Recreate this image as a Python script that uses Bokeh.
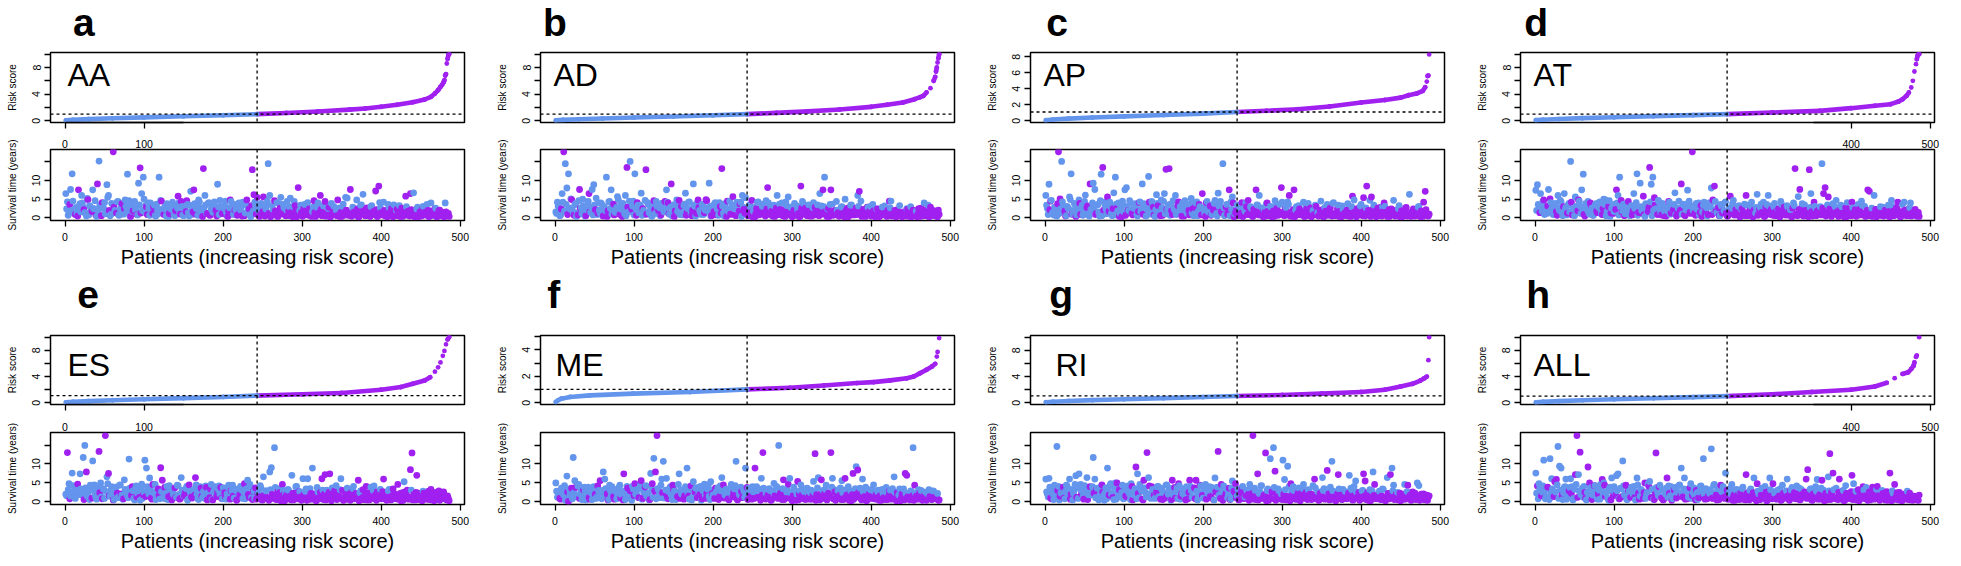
from bokeh.plotting import figure
from bokeh.models import Span, Label, LinearAxis, FixedTicker, Range1d, ColumnDataSource
from bokeh.layouts import row, column
from bokeh.core.properties import value
from bokeh.embed import file_html
from bokeh.resources import INLINE

CUTOFF_RANK = 243
BLUE = "#6495ED"
PURPLE = "#A020F0"
FONT = "Liberation Sans"

panel_letters = ["a", "b", "c", "d", "e", "f", "g", "h"]
panel_names = ["AA", "AD", "AP", "AT", "ES", "ME", "RI", "ALL"]

# ---------------- risk score curves (patient rank, risk score) ----------------
rx_AA = [1, 10, 30, 60, 100, 150, 200, 243, 280, 320, 360, 380, 400, 420, 440, 455, 463, 468, 472, 475, 477, 479, 480, 481, 482, 483, 484, 485, 486]
ry_AA = [0.08, 0.15, 0.25, 0.38, 0.52, 0.68, 0.84, 1.0, 1.18, 1.4, 1.68, 1.85, 2.1, 2.4, 2.8, 3.2, 3.6, 4.1, 4.6, 5.1, 5.4, 5.8, 6.1, 6.8, 7.0, 8.6, 9.3, 9.9, 10.0]
rx_AD = [1, 10, 30, 60, 100, 150, 200, 243, 280, 320, 360, 400, 420, 440, 455, 462, 466, 470, 475, 479, 481, 482, 483, 484, 485, 486]
ry_AD = [0.07, 0.14, 0.24, 0.36, 0.5, 0.66, 0.83, 1.0, 1.2, 1.42, 1.7, 2.1, 2.4, 2.75, 3.25, 3.55, 3.75, 4.25, 4.9, 6.0, 6.6, 7.4, 8.0, 8.75, 9.4, 10.0]
rx_AP = [1, 10, 30, 60, 100, 150, 200, 243, 280, 320, 360, 400, 430, 450, 460, 470, 478, 481, 483, 484, 485, 486]
ry_AP = [0.08, 0.16, 0.28, 0.42, 0.56, 0.72, 0.9, 1.1, 1.25, 1.45, 1.8, 2.3, 2.6, 2.9, 3.2, 3.4, 3.75, 4.2, 4.9, 5.6, 5.65, 8.3]
rx_AT = [1, 10, 30, 60, 100, 150, 200, 243, 300, 360, 400, 430, 450, 460, 465, 470, 473, 476, 478, 480, 482, 483, 484, 485, 486]
ry_AT = [0.1, 0.17, 0.27, 0.4, 0.54, 0.7, 0.86, 1.0, 1.25, 1.5, 1.9, 2.25, 2.5, 2.9, 3.25, 3.75, 4.25, 5.0, 6.0, 7.4, 8.5, 9.25, 9.75, 10.0, 10.0]
rx_ES = [1, 10, 30, 60, 100, 150, 200, 243, 300, 350, 400, 425, 440, 455, 462, 468, 472, 475, 478, 480, 482, 484, 486]
ry_ES = [0.08, 0.15, 0.27, 0.4, 0.55, 0.72, 0.9, 1.1, 1.3, 1.5, 2.0, 2.4, 2.9, 3.4, 3.9, 4.75, 5.4, 6.15, 7.15, 7.9, 8.9, 9.65, 10.0]
rx_ME = [1, 4, 8, 19, 44, 99, 171, 243, 297, 340, 382, 403, 424, 445, 454, 462, 470, 477, 481, 483, 484, 486]
ry_ME = [0.07, 0.2, 0.32, 0.45, 0.57, 0.7, 0.82, 1.02, 1.14, 1.32, 1.5, 1.57, 1.7, 1.86, 2.0, 2.25, 2.5, 2.75, 2.95, 3.5, 3.85, 4.9]
rx_RI = [1, 10, 30, 60, 100, 150, 200, 243, 300, 350, 400, 430, 450, 465, 475, 480, 483, 485, 486]
ry_RI = [0.1, 0.17, 0.28, 0.42, 0.56, 0.72, 0.88, 1.05, 1.2, 1.4, 1.65, 2.0, 2.5, 2.9, 3.4, 3.75, 4.0, 6.5, 10.0]
rx_ALL = [1, 10, 30, 60, 100, 150, 200, 243, 300, 350, 400, 430, 445, 455, 465, 472, 476, 479, 480, 482, 483, 486]
ry_ALL = [0.08, 0.15, 0.26, 0.4, 0.55, 0.71, 0.87, 1.03, 1.3, 1.65, 2.0, 2.5, 3.05, 3.75, 4.4, 4.65, 5.15, 5.65, 6.15, 7.0, 7.2, 10.0]

# ---- survival times (years) by patient rank; odd ranks 1,3,5,... and even ranks 2,4,6,...; "*" = dead ----
surv_odd_AA = """
6.5 4.3 1.6 7.6 11.8 2.2 0.9* 1.2 7.5* 3.8
6.0 2.8 1.4 0.5 4.9* 3.3 1.9 7.5 2.4 0.7*
9.1* 15.2 3.6 4.1* 2.5 1.1 8.9 6.0 0.6 3.9
17.7* 2.0 1.3* 4.4 0.8 2.9 1.7 2.5* 3.1 11.7
4.6 0.4* 1.8 3.5 2.2 0.9* 9.3 13.4* 6.5 10.9
1.5 3.0* 4.0 0.7 2.6 1.2* 3.4 0.5 2.0 10.9
4.7 1.6 0.9* 2.3 3.8 0.4 1.1* 2.8 1.9 0.6
3.2 5.8* 1.4 4.4* 0.8 2.6 1.7* 3.6 0.5 7.1
2.2 7.5* 1.0* 3.4 4.8 2.7 0.6 13.2* 6.0 1.3
3.9 0.7* 2.4 1.5 4.3 2.0* 9.0 0.9 3.1 1.2*
2.6 4.5 0.5 1.8* 4.8* 3.2 1.0 2.1* 0.8 3.7
1.4* 2.9 4.2 0.6* 3.5 1.7 2.4* 0.3 12.9* 6.2*
3.1 5.5* 1.9 0.8* 2.6 5.6* 0.5* 3.4 14.5 6.0
0.9* 2.2 4.6* 1.5* 0.4* 3.8 5.5 1.2* 2.7 0.6*
4.4 1.8* 5.3 0.7* 2.9 3.3* 0.3* 8.1* 2.0 1.4*
0.5* 3.6 1.1* 4.1 2.4* 0.8* 1.7 4.6* 0.4* 2.8
1.3* 6.0* 0.6* 3.2 4.4* 1.0* 2.5 0.3* 3.9 1.6*
0.9* 2.1 4.8* 0.4* 1.5* 3.1 0.7* 5.5 5.3 1.2*
7.6* 0.5* 2.6 1.1* 4.8 0.3* 1.8* 3.5 6.3 0.8*
2.3* 0.6* 1.4* 3.0 0.9* 1.7* 7.2* 0.4* 8.5* 2.7
1.0* 4.2 0.5* 1.9* 3.6 0.8* 2.5* 0.3* 1.3* 2.1
0.6* 3.3 1.5* 0.4* 2.2* 5.8* 1.1* 0.7* 6.5* 1.8*
6.7 0.9* 2.4 0.3* 1.6* 0.5* 3.1 1.2* 0.8* 2.0*
0.4* 4.0 1.4* 0.7* 2.6 0.3* 1.9* 1.0* 0.5* 1.5*
4.0 0.6* 1.2*
"""
surv_even_AA = """
2.4 0.7 3.6* 1.9 4.5 1.1 2.8 0.5* 3.3 1.6
4.0 2.2* 1.3 5.2 0.8 3.0 1.7* 2.5 4.6 0.4
1.8 3.4 0.6* 2.7 4.1 1.2 5.5 2.0* 0.9 3.7
2.9* 1.4 4.3 0.7 2.2 3.8* 1.0 4.8 1.6 2.6
0.5 3.1 1.9* 4.4 2.4 0.8 3.5 1.3* 2.0 5.0
3.3 0.9* 2.6 4.0 1.5 2.9* 0.6 3.7 1.1 2.3
4.5* 1.7 2.9 0.5 3.6 1.2* 2.4 4.2 0.8 1.9*
2.7 4.0 1.0* 3.1 0.6 2.2 4.6* 1.4 3.4 0.9
1.6* 3.8 2.5 0.7 4.3 1.9 0.4* 2.8 3.5 1.2*
4.1 0.8* 2.3 3.6 1.4 0.5* 3.0 4.7 2.0 1.1*
3.2 1.6 0.4* 2.7 4.4 1.0* 3.6 2.2 0.7* 4.0
2.1 0.5* 3.7 1.3 4.8* 2.5 0.9 3.3* 1.8 4.2
1.0* 2.8 0.4* 3.9 1.6* 0.7* 2.4 4.5 1.2* 0.3*
3.3 0.8* 1.9* 4.1 0.5* 2.6* 1.3* 3.6 0.9* 2.1
0.6* 3.0 1.5* 0.3* 4.4 2.2* 0.9* 1.7* 3.4 0.5*
2.5* 1.1* 3.8 0.7* 1.9* 0.4* 2.9 1.4* 0.8* 4.0
0.9* 2.3* 1.2* 3.5 0.5* 1.7* 2.8* 0.3* 1.1* 3.1
1.8* 0.6* 2.6 1.0* 0.4* 3.7 1.5* 2.1* 0.7* 1.3*
0.5* 2.9 1.6* 0.8* 2.4* 0.3* 3.4 1.2* 1.9* 0.6*
2.7* 1.1* 0.4* 3.3 1.7* 0.9* 2.2* 0.5* 4.1 1.4*
0.8* 2.0* 1.3* 0.3* 2.8 1.6* 0.6* 3.5 1.0* 2.3*
1.5* 0.4* 2.6* 1.1* 0.7* 3.0 1.8* 0.5* 2.2* 0.9*
0.3* 1.7* 2.9 0.6* 1.2* 2.4* 0.8* 1.5* 3.6 0.4*
1.9* 0.7* 1.3* 2.5* 0.4* 1.0* 2.1* 0.6* 1.4* 0.3*
1.6* 0.8* 0.4*
"""
surv_odd_AD = """
1.6 4.2 2.0 0.7 6.5 17.7* 14.5 8.0 11.8 2.4
4.9* 1.2 3.5 0.4 0.8* 7.6* 2.7 5.0 1.8 0.6*
3.1 6.5* 1.5 7.6 8.9 2.2* 0.9 4.0 1.3 3.7
0.5* 2.6 10.9 1.9* 4.4 7.5 3.2 0.8* 2.0 5.7
1.1 3.8 0.4* 2.9 6.0 13.5* 1.6 15.1 2.3* 4.5
11.8 0.7* 3.4 1.8 6.6 2.5* 0.9 12.9* 4.1 1.4
2.8 0.5 4.6* 1.2 3.0 1.9* 0.6 3.9 2.2 4.4*
7.5 4.0* 1.0 9.1* 2.6 0.4* 3.5 1.7 4.7* 2.1
0.8 3.3 6.6 1.5* 4.2 2.4 0.6* 9.1 3.1 1.2*
4.8* 2.0 0.9 3.6 1.4* 4.9* 2.7 9.3 0.5 3.2
1.7* 4.1 2.5 0.7 3.0* 13.2* 1.3 3.8 0.4* 2.2
4.5 1.0* 5.7* 2.9 0.6* 3.6 1.8* 4.2 6.0 2.3*
5.4 1.2* 0.6* 3.0 4.7* 1.8 0.3* 2.5* 4.3 1.0*
2.1* 3.7 0.8* 4.6 8.1* 1.4* 2.8 0.5* 3.4 1.9*
6.0 0.9* 2.3* 4.0 1.2* 0.4* 3.3 5.6 1.6* 2.7
0.7* 3.9 1.5* 2.2 0.3* 8.5* 4.4 1.0* 2.6* 0.6*
3.5 1.9* 0.5* 4.1 2.8* 1.3* 0.8* 6.5 3.2 7.5*
10.9 1.1* 2.4 0.4* 7.5* 3.7 1.6* 0.9* 2.1 0.5*
1.4* 3.0 0.7* 5.0 2.2* 0.3* 1.8* 3.5 0.9* 1.2*
2.6* 6.0 7.1* 4.5 0.6* 1.5* 0.4* 2.9* 1.0* 3.1
0.8* 1.9* 0.3* 2.4 1.2* 0.5* 1.7* 0.9* 3.2 1.4*
2.0* 4.5* 4.5 0.6* 1.3* 0.4* 2.2* 0.8* 1.1* 0.3*
1.6* 0.5* 2.5 0.9* 1.4* 0.3* 2.1* 0.7* 1.8 1.0*
0.4* 2.6* 1.2* 4.0 0.6* 2.0* 0.3* 2.9* 1.5* 0.8*
1.8* 0.5* 2.1*
"""
surv_even_AD = """
1.2 3.1 0.6 2.4* 4.2 1.8 3.6 0.9* 2.7 5.1
2.0 0.7* 3.8 1.4 4.6 2.6* 1.1 3.3 0.5 2.2
4.4 1.6* 2.9 0.8 3.5 5.3 1.3* 2.1 4.0 0.6
3.0 1.9 0.4* 4.3 2.5 1.0 3.7* 1.5 2.8 4.9
0.9* 2.3 3.9 1.2 0.6 2.9* 4.5 1.7 3.2 0.8
2.6 4.1* 1.4 3.4 0.7 2.0 4.7 1.0* 3.6 1.8
0.5 3.0 2.2* 4.4 1.3 2.7 0.8* 3.9 1.6 2.4
4.2 1.1* 2.9 0.6 3.5 1.9* 4.8 2.3 0.9 3.1*
1.5 3.7 0.7* 2.5 4.3 1.2 2.0* 3.4 0.5 4.0
2.8* 1.4 3.6 0.9 2.1 4.6* 1.7 3.0 0.6* 2.4
3.9 0.8* 2.2 4.1 1.3* 3.2 0.5 2.7 4.5* 1.6
1.0* 3.4 2.5 0.7* 4.2 1.9 3.7* 0.4 2.9 1.3*
2.2* 0.6* 3.5 1.4* 0.3* 2.8 1.1* 4.2 0.8* 1.7*
3.1 1.3* 0.5* 2.4* 4.0 0.9* 1.8* 3.3 0.4* 2.6*
1.0* 3.7 1.6* 0.6* 2.2* 4.3 0.8* 1.4* 2.9 0.3*
2.0* 0.7* 3.2 1.2* 0.4* 2.6* 3.9 1.5* 0.9* 2.3*
0.5* 1.9* 2.8 0.8* 1.3* 3.5 0.6* 2.1* 1.0* 3.0
1.7* 0.4* 2.5* 3.6 1.1* 0.7* 2.0* 4.4 1.4* 0.5*
2.9 1.0* 0.3* 1.8* 2.6* 0.6* 3.4 1.2* 0.8* 2.1*
0.9* 3.1 1.5* 0.4* 2.3* 1.1* 0.7* 2.8 1.9* 0.5*
3.6 0.6* 1.2* 2.4* 0.3* 1.6* 2.9 0.8* 1.3* 0.4*
1.4* 2.7 0.5* 1.0* 2.0* 0.3* 1.7* 3.3 0.6* 1.2*
0.7* 1.5* 2.3* 0.4* 3.0 1.1* 0.6* 1.9* 0.3* 2.5*
1.2* 0.5* 2.2* 0.9* 1.6* 3.4 0.4* 1.0* 2.0* 0.6*
1.4* 0.3* 0.9*
"""
surv_odd_AP = """
6.0 2.5 9.0 4.5* 1.2 0.8 2.1 0.5 17.7* 5.1*
15.1 3.2 1.8* 0.6 2.7 5.6 11.8 1.0 3.9 0.4*
2.2 4.8 0.9* 3.4 1.5 6.1 2.8* 0.7 9.1* 2.0
9.3 7.6 1.2* 3.6 0.5 11.7 13.5* 4.2 2.4 5.6*
1.8* 3.0 0.6 6.7 10.9 2.6* 4.0 1.1 0.3* 3.5
7.5 8.1 2.0* 4.6 1.4 0.8* 3.1 2.5 0.5 4.1*
1.7 9.1 3.8 0.6* 2.3 11.1 1.0 4.4 2.9* 0.4
6.2 3.3* 1.5 4.8 0.7* 6.5 13.0* 2.2 13.2* 3.7
0.9* 2.6 6.0 1.3 4.3* 3.0 0.5* 2.0 4.6 1.6
3.4 0.8* 5.2 2.4* 1.1 4.0 0.6 3.6* 1.9 6.5*
2.7 0.4* 4.4 1.5 3.2* 0.9 2.1* 4.7 1.2 6.6
3.8 1.7* 14.5 0.6 2.9* 1.0* 7.5* 4.2 5.6 0.3*
1.4* 3.5 0.7* 2.3 4.1* 0.5* 1.8 3.0* 4.7* 0.9*
2.6 0.4* 1.2* 7.5* 3.4 6.0 0.8* 1.6* 2.2 0.5*
4.0* 1.0* 3.1 0.3* 1.9* 4.6 2.5* 0.7* 3.6 8.1*
1.3* 0.6* 2.8 4.3 6.0* 1.5* 0.4* 7.5* 2.1 1.0*
3.3 0.8* 1.7* 4.2 0.5* 2.4* 3.9 1.1* 0.3* 2.0
0.9* 3.1* 1.4 0.6* 4.5 2.2* 0.4* 1.8* 3.6 1.2*
2.7* 0.5* 4.1 1.0* 0.7* 3.4 1.6* 0.3* 2.3 1.3*
0.6* 3.8 1.9* 0.4* 5.8* 4.8 1.1* 2.5* 0.8* 3.2
1.4* 5.4* 0.5* 8.5* 2.0* 4.7 5.6* 0.9* 1.7* 0.3*
2.6* 1.1* 0.6* 3.0 4.0* 1.5* 0.4* 2.2* 0.8* 1.8*
4.7 0.5* 1.3* 2.5 0.3* 1.9* 0.7* 1.2* 2.8* 0.9*
6.3 0.4* 1.6* 2.3* 0.6* 1.0* 3.1 0.3* 1.5* 4.2*
7.1* 1.2* 0.5*
"""
surv_even_AP = """
3.4 0.9 2.2* 4.7 1.5 2.9 0.6 3.8* 1.2 2.5
4.3 1.7 0.5* 3.1 2.4 4.9 1.0* 2.0 3.6 0.8
1.4 3.9* 2.6 0.7 4.4 1.8 3.2* 0.5 2.3 4.0
2.8 0.9* 3.5 1.6 4.6 0.6 2.1* 3.3 1.1 2.7
4.2 1.3 2.5* 0.8 3.7 1.9 0.4* 2.9 4.5 1.5
0.7* 3.0 2.0 4.1 1.2* 2.6 3.8 0.9 1.7* 4.3
2.4 1.0* 3.6 0.5 2.8 4.2* 1.4 3.1 0.8* 2.2
3.9 1.6 0.6* 2.7 4.4 1.1 2.3* 3.5 0.7 1.9*
4.6 2.1 0.9 3.3* 1.5 2.6 4.0 0.5* 3.2 1.2
2.0* 3.7 1.3 0.6 2.9* 4.3 1.8 3.0 0.8* 2.5
1.1 4.1* 2.4 3.4 0.7* 1.6 3.9 2.2* 0.5 3.1
4.4 1.4* 2.7 0.9 3.6 1.9* 0.6 2.3 4.0* 1.2
2.0* 0.7* 3.2 1.3* 0.4* 2.6 4.1 0.9* 1.6* 3.0
0.5* 2.3* 1.1* 3.5 0.8* 1.9* 2.7 0.3* 1.4* 3.8
1.8* 0.6* 2.9 1.2* 0.4* 3.3 2.1* 0.9* 1.5* 4.2
0.7* 2.5* 1.0* 3.6 0.5* 1.7* 2.2* 0.3* 3.0 1.3*
2.4* 0.9* 1.6* 0.4* 3.1 1.2* 0.6* 2.7* 1.9* 0.8*
3.4 1.5* 0.5* 2.0* 1.1* 0.3* 2.8 1.7* 0.7* 2.3*
1.0* 3.9 0.6* 1.4* 2.5* 0.4* 1.8* 3.2 0.9* 1.3*
2.1* 0.5* 1.2* 3.0 0.8* 1.6* 0.3* 2.4* 1.1* 3.6
0.6* 1.9* 2.7 0.9* 1.4* 0.4* 2.2* 3.4 0.7* 1.5*
1.2* 2.8* 0.5* 1.7* 3.1 0.8* 1.3* 0.4* 2.4* 1.0*
2.0* 0.6* 1.5* 3.3 0.9* 0.3* 1.8* 2.6* 0.5* 1.1*
0.8* 1.6* 2.4* 0.5* 1.2* 2.9 0.7* 1.9* 0.4* 1.3*
2.2* 0.6* 1.0*
"""
surv_odd_AT = """
7.4 8.9 2.2 6.5 1.8 4.8* 2.9 1.2 7.6 5.1*
2.5 0.9 3.6 1.7* 6.0 2.0 4.3 0.6 6.5 2.8
1.3* 3.9 15.1 0.8* 2.4 5.6 1.6 4.8* 3.1 7.5
11.7 0.5* 2.7 4.4 1.0 3.3* 0.7 2.1 3.8 1.4*
4.1 2.3 0.9* 5.0 4.8 1.6 3.0* 0.4 2.6 1.2*
3.7 7.5* 6.0 10.9 4.7* 1.8 0.6* 2.9 4.0 1.1
2.4 0.8* 6.5 3.5 11.8 1.5* 9.3 2.0 5.8* 0.4
3.2 1.7* 13.5* 9.0 10.9 5.4* 2.5 0.9* 4.2 1.3
3.9 0.6* 2.8 1.9 4.4* 1.0 3.3 2.2* 6.7 0.5*
2.6 1.4* 9.1* 3.7 0.8* 2.1 7.4 4.5 1.2* 17.7*
3.0 0.7* 2.3 4.0 1.5* 0.4* 3.4 1.1* 2.7 0.9*
4.1 8.0 4.8* 8.5* 1.8* 2.9 0.6* 3.6 1.3* 2.0
4.3 0.5* 1.2* 5.8* 2.6 4.7 0.8* 1.9* 3.1 0.3*
2.4 1.0* 3.7 6.0* 0.6* 1.7* 3.2 0.4* 2.1* 1.3
6.3 0.9* 2.8 1.5* 4.2 0.5* 3.6 6.0 1.1* 2.3*
0.7* 3.9 1.8* 2.5 0.4* 4.4 1.2* 2.9* 0.8* 3.3
1.6* 2.2 0.3* 4.0 13.2* 1.0* 5.7 7.6* 2.7* 0.6*
3.5 1.4* 2.1* 12.9* 6.5 0.5* 4.2* 2.6 1.8* 0.9*
3.0 14.5 6.5* 8.1* 1.2* 5.6* 2.4* 0.4* 3.8 1.5*
4.7 0.8* 2.0* 3.4 1.1* 0.3* 2.7* 4.1 1.6* 0.6*
4.2* 1.3* 2.2* 0.5* 3.6 1.9* 4.5 0.9* 3.1 1.4*
7.5* 7.1* 1.0* 0.4* 6.0 2.3* 1.6* 0.7* 3.0 1.2*
0.5* 2.1* 1.4* 3.4 0.3* 4.7 1.8* 0.8* 2.6* 4.2*
1.1* 0.4* 3.6 4.2 1.7* 0.6* 2.4* 4.0 1.3* 0.8*
2.3* 0.5* 1.5*
"""
surv_even_AT = """
2.0 3.6 1.4* 2.8 4.4 0.9 2.5 3.2* 1.7 4.1
1.1 2.3 3.9 0.7* 2.6 4.7 1.5 3.0* 2.1 0.8
3.5 1.6 4.2* 2.4 0.6 3.1 1.9* 4.5 1.2 2.7
0.9* 3.8 2.2 1.4 4.0* 2.6 0.7 3.4 1.8* 2.9
4.3 1.0 2.5* 3.6 0.5 2.0 4.6 1.3* 3.1 1.7
2.3* 4.0 0.8 2.9 1.6* 3.7 1.1 2.4 4.4* 0.6
3.3 1.9* 2.6 4.1 0.7 1.4* 3.0 2.2 0.9* 3.8
1.5 2.8* 4.3 0.6 2.0 3.5* 1.2 4.7 2.5 0.8*
3.1 1.7 0.5* 2.9 4.2 1.3* 2.3 3.6 0.9 1.9*
4.5 2.1* 1.0 3.4 0.6* 2.7 4.0 1.5* 3.2 2.0
1.2* 3.9 2.4 0.8 3.3* 1.6 4.2 2.1* 0.5 2.9
3.6 0.9* 2.2 4.4 1.4 2.7* 0.6 3.1 1.9* 4.0
1.3* 0.5* 2.7 1.8* 3.9 0.8* 2.2* 1.1* 3.3 0.4*
2.5* 1.5* 0.6* 3.4 1.0* 2.1* 4.2 0.3* 1.7* 2.8
0.7* 2.3* 3.7 1.2* 0.4* 2.9* 1.6* 3.2 0.9* 1.9*
3.0 0.6* 1.4* 2.4* 0.3* 3.6 1.1* 2.0* 0.8* 2.7
1.8* 0.4* 2.6* 3.3 1.0* 0.6* 2.2* 1.4* 3.8 0.5*
2.0* 1.2* 0.3* 2.8 1.7* 0.9* 3.1 0.6* 1.5* 2.4*
0.8* 2.6* 1.3* 0.5* 3.5 1.9* 0.7* 2.2* 1.0* 2.9
1.6* 0.4* 2.1* 3.0 0.9* 1.4* 0.3* 2.5* 1.8* 0.6*
2.7 1.1* 0.5* 1.7* 2.3* 0.8* 3.4 1.2* 0.4* 2.0*
0.6* 1.8* 2.6 0.9* 1.3* 0.3* 2.2* 1.6* 0.7* 2.9
1.5* 0.8* 2.3* 0.4* 1.9* 3.1 0.6* 1.2* 2.5* 0.9*
0.3* 1.7* 1.0* 2.1* 0.6* 1.4* 2.7 0.5* 1.1* 1.8*
0.7* 1.3* 0.4*
"""
surv_odd_ES = """
2.0 13.0* 4.8 1.5 7.6 2.6 0.9 4.2 3.1 7.4
1.8 11.7 14.9 7.9* 2.4 0.6 3.6 10.8 4.5 1.2
2.9 13.3* 5.0 0.8* 3.3 17.5* 6.6 7.5* 1.5 4.0
0.5* 2.6 3.9 1.1 4.4 2.1* 0.7 5.8 3.0 1.6
11.3 2.3 4.0* 0.9 3.5 1.3* 2.7 0.4 4.7 1.9*
11.0 8.9 3.6 6.3 1.0* 4.6* 2.2 0.6 3.2 1.7*
9.0* 5.7* 2.5 0.8 4.1 1.4* 3.0 0.5* 2.0 3.7*
1.2 4.3 0.7* 6.4 2.8 1.6* 3.5 0.4 4.5* 2.3
1.0* 3.3 6.4* 2.1 0.6 4.0 1.5* 2.7 0.9 3.8*
2.4 1.1* 4.6 0.5* 3.1 1.8 2.6* 4.2 3.8* 0.8
3.6 1.3* 2.1 4.4 0.7* 2.9 1.6* 3.4 0.4* 2.5
1.9* 3.2 0.9 4.8* 2.2 5.7 1.2* 3.9 0.6* 2.8
3.7* 1.0* 2.4 4.3 0.5* 6.6 1.7* 2.9 0.8* 7.9
9.0 1.4* 14.3 0.6* 2.6* 3.5 0.3* 4.6* 1.9* 2.2
0.9* 3.0 1.5* 7.0 0.5* 2.4* 4.1 1.1* 2.7 0.4*
6.1 1.8* 3.4 6.1 0.7* 2.2* 8.9 1.3* 0.4* 3.8
1.0* 2.5* 6.1* 0.6* 7.2* 3.1 1.6* 7.4* 0.3* 2.0*
2.9* 4.3 0.8* 1.4* 6.1 3.0* 0.5* 2.2* 3.6 1.1*
0.4* 2.7* 4.1 1.7* 0.9* 5.7* 2.4 0.6* 3.2* 1.3*
4.1* 2.0* 0.5* 3.9 1.2* 4.2 0.7* 2.6* 1.5* 3.3
0.9* 6.0* 1.8* 0.4* 2.9 1.3* 0.6* 3.4* 2.1* 0.8*
4.6* 1.5* 0.3* 2.4* 5.3 1.0* 3.1* 0.7* 8.5* 12.9*
1.9* 0.5* 7.0* 2.3* 1.2* 0.4* 2.8 1.6* 0.8* 2.0*
0.6* 3.3* 1.4* 0.3* 2.5* 1.1* 2.9* 0.7* 1.8* 2.6*
1.2* 0.5* 0.9*
"""
surv_even_ES = """
1.6 3.2 0.8* 2.5 4.3 1.2 2.9 4.7* 1.9 3.4
2.2 0.6* 3.7 1.5 2.8 4.4 1.0* 3.1 2.0 0.7
4.1 2.4* 1.3 3.5 0.9 2.7 4.8 1.6* 3.0 2.1
0.6 3.9 2.3* 1.4 4.5 1.8 0.8* 3.3 2.6 1.1
3.6 1.7* 2.9 0.5 4.2 2.2 1.2* 3.7 0.9 2.5
1.4* 4.0 2.1 3.2 0.7* 2.6 4.6 1.5 3.4* 0.8
2.7 1.0 3.8* 2.3 0.6 4.3 1.7* 2.9 3.5 1.2*
4.4 2.0 0.9* 3.1 1.6 2.4* 4.1 0.7 2.8 1.3*
3.0 1.8* 4.5 0.8 2.6 3.6* 1.1 2.2 4.2 0.5*
1.9 3.4* 0.6 2.7 4.0 1.4* 3.2 2.1 0.9* 3.7
2.4* 0.7 3.9 1.6 2.9* 4.4 1.0 3.0 0.6* 2.3
4.1 1.5* 2.6 0.8 3.5 2.0* 4.6 1.2 2.7* 0.9
0.7* 2.3* 1.4* 3.6 0.5* 1.8* 2.9 1.1* 0.4* 3.2
2.0* 0.9* 3.8 1.5* 0.6* 2.5* 1.2* 3.0 0.3* 1.7*
3.3 1.0* 0.5* 2.2* 1.6* 4.0 0.8* 2.7* 1.3* 0.6*
1.9* 2.8 0.4* 1.1* 3.5 0.7* 2.1* 1.5* 0.3* 2.6
0.8* 1.4* 3.1 2.0* 0.5* 1.7* 2.5* 0.9* 3.7 1.2*
2.3* 0.6* 1.5* 3.2 1.0* 0.4* 2.8* 1.8* 0.7* 2.1*
1.3* 3.5 0.8* 2.2* 1.6* 0.3* 2.9 1.1* 0.6* 1.9*
0.5* 2.4* 1.2* 0.9* 3.0 1.7* 0.4* 2.3* 1.4* 0.8*
2.7* 1.0* 0.6* 1.8* 3.3 0.5* 1.5* 2.1* 0.9* 1.4*
0.7* 2.2* 1.3* 0.4* 2.6* 1.9* 0.8* 1.2* 3.1 0.5*
1.6* 2.5* 0.6* 1.0* 1.9* 0.3* 2.3* 1.4* 0.7* 2.8*
1.1* 0.5* 2.0* 1.5* 0.8* 2.4* 0.4* 1.3* 2.1* 0.9*
0.7* 1.6* 0.3*
"""
surv_odd_ME = """
5.0 1.2 2.5 0.7* 3.3 1.8 0.4 6.8 0.1* 2.1
3.6* 11.7 5.6 1.4 4.2 0.9* 2.8 1.7 3.9 0.5
2.4 1.1* 3.5 0.6 4.0 2.0* 1.3 3.0 5.6* 0.8
7.9 6.0 2.3 0.5* 4.4 1.6 3.2 0.7* 2.7 1.9
3.8 1.0* 2.5 7.4* 0.6 4.1 1.5 2.9* 0.4 3.4
4.8* 2.2 1.2 3.6 5.6* 0.9* 2.6 4.3 1.7 0.5
7.5 4.8* 11.5 7.9* 17.5* 3.1 1.1 6.0 10.7 2.4*
6.2 0.8* 3.7 1.9 4.4* 2.8 0.6 1.4* 7.4 3.2
2.1 0.7* 4.0 8.9 1.6* 3.3 0.5 5.3 2.6* 1.2
3.8 1.9* 0.4 2.9 4.7 0.9* 3.4 1.5 5.3 2.2*
1.0 3.6* 2.5 0.6* 4.2 6.4 4.5* 1.8 3.1 0.8*
2.7 4.6 1.3* 3.4 10.7 0.5* 2.0 3.9 1.1* 2.8
8.9 3.8* 3.6 1.5* 0.7* 2.6 8.9* 4.0 1.2* 3.1
6.2 13.0* 0.9* 2.3 1.7* 3.5 0.4* 2.8 4.9 1.4*
3.9 14.9 2.2* 0.6* 5.8* 1.1* 2.6 4.7* 6.2 0.8*
1.6* 3.2 0.4* 5.4* 2.0* 4.5 1.0* 2.7 0.6* 3.6
1.3* 2.4 0.7* 5.4 12.7* 1.9* 6.4 0.5* 5.8* 3.0
2.2* 4.4 0.9* 1.5* 13.0* 6.2 3.3 0.4* 2.6* 1.2*
3.7 5.6 0.6* 6.2* 1.8* 4.0 2.3* 0.3* 7.5* 1.1*
9.3 8.4* 2.7* 0.8* 6.0 1.4* 3.9 0.5* 2.0* 3.2
1.2* 4.5 2.5 0.7* 3.1 1.6* 0.4* 2.2 1.0* 3.8
0.6* 2.9* 1.3* 3.5 6.6 0.8* 2.4* 1.8 0.3* 2.0*
3.4 7.5* 7.0* 1.1* 0.5* 2.7 14.3 4.4* 1.5* 0.7*
2.3* 3.0 0.4* 1.6* 2.5 0.9* 3.2 1.2* 0.6* 2.8
1.0* 1.5* 0.4*
"""
surv_even_ME = """
2.8 1.5 0.9* 3.6 2.2 4.3 1.1 2.6* 3.4 1.7
0.8 2.4 3.8* 1.3 4.6 2.0 0.6 3.1* 2.7 1.5
3.9 0.7* 2.3 1.8 3.3 0.9 4.2* 2.6 1.2 3.0
1.6 3.5 2.1* 0.6 2.9 4.0 1.4* 3.2 0.8 2.5
4.4 1.9 0.5* 2.8 1.3 3.6* 2.2 0.9 4.1 1.7*
2.0 3.3 1.1* 4.5 0.7 2.6 3.9* 1.5 2.3 0.6*
3.7 1.2 2.8* 0.8 3.5 1.9 4.4 2.4* 1.0 3.1
1.4* 2.7 4.0 0.6 3.2* 1.8 2.5 4.6 0.9* 2.1
3.0 1.6* 3.8 2.3 0.7 4.2* 1.3 2.9 3.6 1.1*
2.5 4.1 0.8* 3.4 1.7 2.2* 4.5 0.6 3.1 1.9
0.9* 2.6 3.7 1.4* 2.9 4.0 1.0* 3.3 2.0 0.5*
3.8 1.6 2.4* 4.3 0.8* 3.0 1.8 2.7* 3.5 1.2
2.3 0.6* 3.1 1.5* 4.0 0.9* 2.6 1.2* 3.4 0.4*
1.8* 3.6 0.7* 2.2 1.1* 3.0 0.5* 2.5 1.6* 4.1
0.9* 2.8 1.4* 3.5 0.6* 2.0* 3.2 1.0* 2.4 0.3*
3.9 1.3* 2.1 0.5* 2.9 1.7* 0.8* 3.4 1.1* 2.2
0.7* 3.1 1.6* 2.5 0.4* 3.7 1.2* 2.0* 0.9* 2.8
3.3 0.5* 2.3* 1.4* 3.9 0.8* 2.6* 1.1* 3.0 1.7*
0.6* 2.4 1.0* 3.2 1.5* 0.4* 2.9 1.9* 0.7* 3.5
2.1* 1.3* 3.6 0.5* 2.6 1.0* 0.3* 2.8 1.6* 0.9*
3.0 0.8* 1.9* 2.7 0.4* 1.4* 3.3 1.1* 0.6* 2.4
1.5* 3.1 0.7* 1.2* 2.5 0.3* 1.8* 3.4 0.9* 2.0*
0.5* 2.2 1.3* 0.8* 2.9 1.6* 0.4* 2.3 1.0* 3.2
1.7* 0.6* 2.6 1.1* 0.4* 2.0 1.4* 0.7* 2.9 1.2*
0.8* 2.2 0.5*
"""
surv_odd_RI = """
6.0 2.1 6.2 1.0* 3.4 0.6 2.7 14.6 4.1 1.5*
2.3 3.9* 0.8 4.4 1.6 6.0 2.0* 0.5 3.1 6.9
1.2* 7.4 4.6 2.8 0.7* 3.5 6.4 1.9 4.0* 2.4
11.7 6.0 3.2* 0.9 1.5 4.1 2.6* 0.4 3.7 8.9
1.8* 4.8 2.2 0.6 5.0 5.0* 1.3 3.3* 2.5 0.8
3.9 1.4* 4.2 2.0 4.8 0.5* 2.9 9.2* 7.4 1.1
3.4 0.7* 5.7* 2.4 13.0* 6.4 1.6 4.0* 3.0 0.9
2.5* 4.1 1.2 3.6 0.6* 2.2 4.4 1.8* 3.1 0.4
5.7* 2.7 1.0* 3.8 4.8* 0.7 2.3* 3.3 1.5 4.0
0.8* 5.7* 2.9 1.3 3.7* 5.7* 0.5 2.4 4.2 1.7*
3.5 4.6 0.9* 2.1 1.4* 3.8 0.6* 6.3 2.6* 13.3*
1.9 4.6* 0.4* 3.2 2.2* 1.0 3.6* 0.7 5.5 2.8*
4.8* 1.6 0.5* 2.5 3.7* 0.9* 1.3 3.1 2.0* 4.6
1.1* 17.5* 3.6 0.6* 7.4* 2.2 4.2 0.9* 1.7* 12.9*
3.0 0.4* 11.4 2.6* 14.3 8.1* 1.4* 3.4 0.8* 2.1
11.0 5.9 0.5* 9.4 4.1 4.8* 1.8* 2.9 0.7* 1.2*
3.7 0.3* 2.4* 4.6 1.5* 0.9* 3.2 2.0* 0.6* 4.3
6.0* 1.0* 2.7 0.5* 1.6* 6.4 3.5 0.8* 8.3* 2.1*
3.9 10.7 1.3* 0.4* 2.6 7.2* 1.8* 0.7* 3.3 2.2*
0.9* 1.5* 7.0 3.6 0.5* 4.1 5.5 1.2* 2.4* 0.7*
2.9 7.4* 5.5* 1.0* 0.4* 3.2 1.9* 7.9 4.6* 0.8*
1.5* 2.8 0.6* 3.4 1.1* 0.3* 6.4 2.2* 7.2* 8.9
4.4 0.9* 1.6* 0.5* 2.3* 1.2* 0.7* 4.6 2.0* 4.4*
1.3* 0.4* 2.6* 1.0* 0.6* 5.0 4.3 1.7* 0.8* 2.1*
0.5* 1.8* 1.2*
"""
surv_even_RI = """
2.6 1.3 3.9 0.8* 2.1 4.4 1.6 3.0* 0.5 2.4
3.7 1.0* 2.8 4.1 1.5 0.7* 3.3 2.2 4.6 1.2*
0.9 3.5 2.0* 1.4 4.3 2.7 0.6* 3.1 1.8 4.0
2.3* 1.1 3.6 0.5 2.9 4.5* 1.7 2.4 0.8 3.4
4.2 2.0 1.2* 3.8 0.7 2.6 3.2* 1.5 4.4 0.9
1.6* 3.0 2.5 0.6 4.1* 1.9 3.5 0.8 2.2* 4.6
2.9 0.5* 3.7 1.3 2.1 4.2* 0.9 3.3 1.8* 2.6
4.0 1.4 0.7* 3.1 2.4 1.0* 4.5 2.0 3.6 0.6*
1.9 3.8* 2.7 0.9 4.3 1.5* 2.2 3.4 0.5* 3.0
2.5* 4.1 1.2 3.2 0.8* 2.8 1.6 4.4* 2.1 1.0
3.6 0.7* 2.3 4.0 1.4* 3.1 0.5 2.6* 3.9 1.8
0.9* 2.9 4.2 1.6* 3.4 2.0 0.6* 3.7 1.3 2.5*
1.1* 3.3 0.6* 2.4* 4.1 0.9* 1.7* 2.8 0.4* 3.6
2.2* 0.7* 3.0 1.4* 0.5* 2.6 4.3 1.0* 1.9* 0.3*
3.4 1.2* 0.8* 2.5* 3.8 0.4* 1.6* 2.9 1.1* 0.6*
2.0* 3.2 0.9* 1.5* 0.3* 2.7 4.0 1.3* 0.7* 2.3*
0.5* 1.8* 3.5 1.0* 2.4* 0.6* 3.1 1.4* 2.0* 0.8*
3.7 1.3* 0.4* 2.2* 1.7* 3.0 0.7* 1.1* 2.6 0.5*
1.6* 2.9 0.9* 0.3* 2.1* 3.4 1.2* 0.6* 1.9* 2.7
0.8* 2.3* 1.4* 3.2 0.5* 1.8* 2.6 1.0* 0.4* 2.0*
3.0 1.5* 0.6* 2.4* 1.1* 0.3* 2.8 1.7* 0.9* 1.3*
2.1* 0.7* 1.6* 3.3 0.4* 1.2* 2.2* 0.8* 1.5* 2.9
0.6* 1.9* 2.5 1.0* 0.3* 1.4* 2.0* 0.7* 2.7 1.2*
1.8* 0.5* 1.1* 2.3* 0.8* 1.5* 0.4* 2.0* 1.3* 0.6*
1.0* 0.4* 1.6*
"""
surv_odd_ALL = """
7.6 4.2* 4.8 1.9 2.6 11.0 0.8 3.4 1.3 11.4
6.1 2.2 5.3* 5.9* 14.6 9.4 8.9 0.6 3.8 6.0
1.7 2.9* 6.1 4.0 0.9 7.2* 17.5* 7.2 13.1* 3.3
1.2 2.5* 0.5 9.2* 5.0* 3.7 1.8 4.3* 2.1 0.7
3.1 4.6 5.9* 5.0 1.4* 2.7 0.4 3.9 6.3 1.6*
2.4 6.9 7.4 0.8* 3.5 10.8 1.9 4.4* 0.6 2.8
1.2* 3.6 4.1 0.5 6.3 2.3* 1.5 3.0 0.9* 5.0*
2.0 4.7 5.4 1.1* 3.4 0.6* 12.9* 2.6 4.0* 1.4
3.2 0.7* 2.1 6.3* 4.2 1.6 0.4* 2.9 3.8 1.0*
2.5 4.5 8.9 1.3* 6.3 3.3 0.8* 2.0 4.8 1.7*
3.7 0.5* 2.4 1.1* 4.1 2.8 11.4 0.7* 3.2 1.5*
2.2 14.0 0.9* 4.6 1.8* 3.5 0.6* 4.4* 2.7 1.2*
7.6 3.0* 0.8* 2.2 4.6 1.4* 0.4* 3.3 1.9* 2.6
0.7* 3.9 1.2* 7.2* 2.4* 0.5* 3.4 1.7* 6.3 0.9*
4.8* 2.1 0.6* 3.6 1.3* 4.1 0.3* 2.7* 6.3 1.0*
4.8* 2.3 0.8* 3.1 1.6* 0.4* 4.4 2.0* 1.1* 6.0
0.6* 2.9* 3.8 1.4* 0.9* 4.2 2.2* 0.5* 3.3 1.7*
2.6* 6.0* 8.5* 1.1* 3.5 0.4* 2.0* 4.0 5.9 1.3*
0.7* 5.7* 3.1 1.8* 0.5* 6.6 12.7* 2.4* 7.6* 1.0*
3.6 0.6* 6.0* 1.5* 2.9* 0.3* 4.3 1.1* 2.2* 0.8*
7.0* 4.8 1.4* 0.5* 3.2* 2.0* 0.9* 4.0* 1.6* 3.8
0.4* 2.6* 1.2* 3.9* 0.7* 2.1* 4.1* 1.5* 0.9* 3.0
1.8* 0.5* 2.7* 1.0* 7.6* 0.3* 2.3 4.6* 1.4* 0.7*
2.5* 1.1* 0.4* 1.9* 0.8* 2.8 1.3* 0.5* 1.6* 0.9*
0.6* 1.2* 0.4*
"""
surv_even_ALL = """
2.3 0.8 3.5 1.6* 4.2 2.7 1.1 3.9* 0.6 2.0
3.4 1.4* 2.6 4.5 0.9 3.1 1.8* 2.4 4.0 0.7
1.5 3.8 2.2* 0.5 3.3 4.6 1.2* 2.8 1.9 3.6
4.1 0.9* 2.5 1.7 3.7 0.6* 2.9 4.3 1.3 2.1*
0.7 3.2 1.9 4.4* 2.3 1.0 3.5 0.5* 2.7 4.0
1.8* 2.9 0.8 3.6 1.4* 4.2 2.2 0.6 3.0* 1.5
3.9 2.0 1.1* 2.7 4.5 0.7* 3.3 1.6 2.4* 0.9
2.6 4.1* 1.3 3.2 0.6 2.0* 3.8 1.7 4.4 1.0*
0.5* 2.8 3.6 1.2 2.2* 4.0 0.8 3.1* 1.9 2.5
4.3 1.5* 2.1 3.4 0.7* 2.9 1.2 3.7* 0.9 2.4
1.7 3.0* 0.6 2.6 4.2 1.3* 2.0 3.5 0.8* 2.8
3.2 1.0* 4.4 2.3 0.5* 3.6 1.6* 2.7 4.0 0.9*
1.5* 0.7* 2.6 3.8 0.4* 1.9* 3.1 1.1* 0.6* 2.3*
3.5 1.3* 0.5* 2.1* 1.7* 3.0 0.9* 2.4* 1.2* 0.3*
2.8 0.6* 1.8* 3.6 1.0* 2.5* 0.4* 1.5* 3.2 0.8*
1.9* 2.7 0.7* 1.3* 3.4 0.5* 2.2* 1.0* 2.9 1.6*
0.4* 3.1 1.5* 2.4* 0.8* 1.2* 3.7 0.6* 2.0* 1.4*
2.5* 0.9* 1.7* 3.3 0.5* 2.1* 1.1* 2.8 0.7* 1.9*
3.6 1.4* 0.3* 2.3* 1.0* 2.9 0.6* 1.6* 3.2 0.8*
1.2* 2.5* 0.7* 1.8* 3.0 0.4* 2.2* 1.3* 0.9* 2.7*
0.6* 1.5* 2.8 1.0* 0.3* 2.4* 1.7* 3.1 0.8* 1.2*
2.0* 0.5* 1.4* 2.6* 0.9* 3.3 1.1* 0.4* 1.8* 2.2*
0.8* 1.6* 0.4* 2.1* 1.3* 2.9 0.6* 1.0* 2.4* 0.5*
1.4* 0.3* 2.0* 0.9* 1.7* 0.6* 2.3* 1.1* 0.4* 1.5*
0.9* 0.5* 1.8*
"""

risk_x = [rx_AA, rx_AD, rx_AP, rx_AT, rx_ES, rx_ME, rx_RI, rx_ALL]
risk_y = [ry_AA, ry_AD, ry_AP, ry_AT, ry_ES, ry_ME, ry_RI, ry_ALL]
surv_odd = [surv_odd_AA, surv_odd_AD, surv_odd_AP, surv_odd_AT,
            surv_odd_ES, surv_odd_ME, surv_odd_RI, surv_odd_ALL]
surv_even = [surv_even_AA, surv_even_AD, surv_even_AP, surv_even_AT,
             surv_even_ES, surv_even_ME, surv_even_RI, surv_even_ALL]

# ---------------- axes / layout settings ----------------
XR = (-18.4, 505.4)
SURV_YR = (-0.7, 18.3)
risk_yr = [(-0.25, 10.25), (-0.25, 10.25), (-0.21, 8.54), (-0.25, 10.25),
           (-0.25, 10.25), (-0.12, 5.09), (-0.25, 10.25), (-0.25, 10.25)]
T10 = [0, 2, 4, 6, 8, 10]
risk_ticks = [T10, T10, [0, 2, 4, 6, 8], T10, T10, [0, 1, 2, 3, 4, 5], T10, T10]
risk_labeled = [[0, 4, 8], [0, 4, 8], [0, 2, 4, 6, 8], [0, 4, 8], [0, 4, 8], [0, 2, 4], [0, 4, 8], [0, 4, 8]]
partial_ticks = {0: [0, 100], 3: [400, 500], 4: [0, 100], 7: [400, 500]}
partial_bounds = {0: (0, 150), 3: (352, 500), 4: (0, 150), 7: (352, 500)}

FRAME_W = 414
COL_W = [486, 494, 476, 499]
COL_LB = [50, 54, 50, 64]
COL_RB = [22, 26, 12, 21]
HEAD_H = [44, 56]
RISK_TOP = [8, 8]
RISK_FH = [70, 69]
RISK_BOT = [13, 14]
SURV_TOP = [14, 14]
SURV_FH = [71, 72]
SURV_BOT = [51, 52]
letter_x = [26.5, 3, 18, 4.5, 31.5, 8, 21.5, 7]
letter_mid = [22, 23]           # visual centre of the letter, from header top
name_dx = [17, 13, 13, 13, 17, 15, 25, 13]
name_mid = [22, 29]             # visual centre of the name, below frame top
YLAB_STANDOFF = 12


def parse_surv(txt, first_rank):
    toks = txt.split()
    x = [first_rank + 2 * i for i in range(len(toks))]
    t = [float(s.rstrip("*")) for s in toks]
    dead = [s.endswith("*") for s in toks]
    return x, t, dead


def style_axis(ax, size="10.5px"):
    ax.axis_line_color = None
    ax.major_tick_out = 6
    ax.major_tick_in = 0
    ax.minor_tick_out = 0
    ax.minor_tick_in = 0
    ax.major_tick_line_color = "black"
    ax.major_tick_line_width = 1.3
    ax.major_label_text_font = FONT
    ax.major_label_text_font_size = size
    ax.major_label_text_color = "black"
    ax.axis_label_text_font = FONT
    ax.axis_label_text_font_style = "normal"
    ax.axis_label_text_color = "black"


def base_fig(w, h, yr, lb, rb, tb, bb, xloc):
    f = figure(width=w, height=h, x_range=Range1d(*XR), y_range=Range1d(*yr),
               output_backend="svg", toolbar_location=None, tools="",
               min_border_left=lb, min_border_right=rb, min_border_top=tb, min_border_bottom=bb,
               x_axis_location=xloc)
    f.grid.grid_line_color = None
    f.outline_line_color = "black"
    f.outline_line_width = 1.5
    f.background_fill_color = "white"
    f.border_fill_color = "white"
    return f


def dashed(loc, dim):
    return Span(location=loc, dimension=dim, line_color="black", line_width=1.3, line_dash="3 3")


panels = []
xpx = FRAME_W / (XR[1] - XR[0])
for i in range(8):
    r, c = divmod(i, 4)
    yr = risk_yr[i]
    rx, ry = risk_x[i], risk_y[i]
    # ---------- header with the panel letter ----------
    hh = HEAD_H[r]
    h = figure(width=COL_W[c], height=hh, x_range=Range1d(0, COL_W[c]), y_range=Range1d(0, hh),
               output_backend="svg", toolbar_location=None, tools="", min_border=0,
               x_axis_location=None, y_axis_location=None)
    h.grid.grid_line_color = None
    h.outline_line_color = None
    h.background_fill_color = "white"
    h.border_fill_color = "white"
    h.text(x=[letter_x[i]], y=[hh - letter_mid[r]], text=[panel_letters[i]],
           text_font=value(FONT), text_font_size=value("39px"), text_font_style="bold",
           text_color="black", text_baseline="middle", text_align="left")
    # ---------- risk score plot ----------
    p = base_fig(COL_W[c], RISK_TOP[r] + RISK_FH[r] + RISK_BOT[r], yr,
                 COL_LB[c], COL_RB[c], RISK_TOP[r], RISK_BOT[r], None)
    ya = p.yaxis[0]
    style_axis(ya)
    ya.ticker = FixedTicker(ticks=risk_ticks[i])
    ya.major_label_overrides = {t: (str(t) if t in risk_labeled[i] else "") for t in risk_ticks[i]}
    ya.major_label_orientation = "vertical"
    ya.major_label_standoff = 4
    ya.axis_label = "Risk score"
    ya.axis_label_text_font_size = "10px"
    ya.axis_label_standoff = YLAB_STANDOFF
    if i in partial_ticks:
        bx = LinearAxis(ticker=FixedTicker(ticks=partial_ticks[i]), bounds=partial_bounds[i])
        style_axis(bx, size="1px")
        bx.axis_line_color = "black"
        bx.axis_line_width = 1.5
        bx.major_label_standoff = 0
        bx.major_label_overrides = {t: "" for t in partial_ticks[i]}
        p.add_layout(bx, "below")
    cut = ry[rx.index(CUTOFF_RANK)]
    thr = 0.06 * (yr[1] - yr[0])
    seg = dict(x0=[], y0=[], x1=[], y1=[], c=[])
    for k in range(len(rx) - 1):
        if ry[k + 1] - ry[k] < thr:
            seg["x0"].append(rx[k]); seg["y0"].append(ry[k])
            seg["x1"].append(rx[k + 1]); seg["y1"].append(ry[k + 1])
            seg["c"].append(BLUE if rx[k + 1] <= CUTOFF_RANK else PURPLE)
    p.segment(x0="x0", y0="y0", x1="x1", y1="y1", line_color="c", line_width=4.6,
              line_cap="round", source=ColumnDataSource(seg))
    p.scatter(x=rx, y=ry, size=4.8, line_color=None,
              fill_color=[BLUE if v <= CUTOFF_RANK else PURPLE for v in rx])
    p.add_layout(dashed(CUTOFF_RANK, "height"))
    p.add_layout(dashed(cut, "width"))
    ypx = RISK_FH[r] / (yr[1] - yr[0])
    p.add_layout(Label(x=XR[0] + name_dx[i] / xpx, y=yr[1] - name_mid[r] / ypx,
                       text=panel_names[i], text_font=FONT, text_font_size="32px",
                       text_color="black", text_baseline="middle"))

    # ---------- survival plot ----------
    ox, ot, od = parse_surv(surv_odd[i], 1)
    ex, et, ed = parse_surv(surv_even[i], 2)
    pts = sorted(zip(ox + ex, ot + et, od + ed))
    s = base_fig(COL_W[c], SURV_TOP[r] + SURV_FH[r] + SURV_BOT[r], SURV_YR,
                 COL_LB[c], COL_RB[c], SURV_TOP[r], SURV_BOT[r], "below")
    xa = s.xaxis[0]
    style_axis(xa)
    xa.ticker = FixedTicker(ticks=[0, 100, 200, 300, 400, 500])
    xa.major_label_standoff = 6
    xa.axis_label = "Patients (increasing risk score)"
    xa.axis_label_text_font_size = "20px"
    xa.axis_label_standoff = 2
    sy = s.yaxis[0]
    style_axis(sy)
    sy.ticker = FixedTicker(ticks=[0, 5, 10, 15])
    sy.major_label_overrides = {0: "0", 5: "5", 10: "10", 15: ""}
    sy.major_label_orientation = "vertical"
    sy.major_label_standoff = 4
    sy.axis_label = "Survival time (years)"
    sy.axis_label_text_font_size = "10px"
    sy.axis_label_standoff = YLAB_STANDOFF
    if i in partial_ticks:
        ax = LinearAxis(ticker=FixedTicker(ticks=partial_ticks[i]))
        style_axis(ax)
        ax.major_tick_out = 0
        ax.major_tick_line_color = None
        ax.major_label_standoff = 2
        s.add_layout(ax, "above")
    s.scatter(x=[q[0] for q in pts], y=[q[1] for q in pts], size=6.8, line_color=None,
              fill_color=[PURPLE if q[2] else BLUE for q in pts])
    s.add_layout(dashed(CUTOFF_RANK, "height"))
    panels.append(column(h, p, s, spacing=0))

layout = column(row(*panels[:4], spacing=0), row(*panels[4:], spacing=0), spacing=0)
open("out.html", "w").write(file_html(layout, INLINE))
